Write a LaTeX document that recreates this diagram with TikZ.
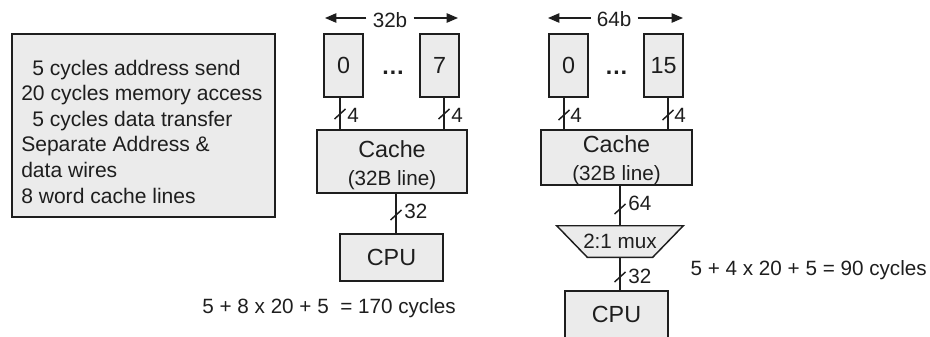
\documentclass[tikz,border=0pt]{standalone}
\usepackage{fontspec}
\setmainfont{Liberation Sans}
\usetikzlibrary{arrows.meta,backgrounds}
\definecolor{boxfill}{RGB}{235,235,235}
\definecolor{ink}{RGB}{30,30,30}
\newcommand\fbig{\fontsize{17.5pt}{21pt}\selectfont}
\newcommand\fsmall{\fontsize{15.5pt}{19pt}\selectfont}
\newcommand\fparam{\fontsize{15.8pt}{19.2pt}\selectfont}

\begin{document}
\begin{tikzpicture}[x=0.75pt,y=-0.75pt,
  box/.style={draw=ink, fill=boxfill, line width=1.1pt, inner sep=0pt, font=\fbig, text=ink},
  wire/.style={draw=ink, line width=1.1pt},
  txt/.style={inner sep=0pt, text=ink},
  dotsym/.style={inner sep=0pt, text=ink, font=\fbig\bfseries, anchor=base},
  width arrow/.style={draw=ink, line width=1.1pt, -{Triangle[length=8.5pt,width=7pt]}},
]
\useasboundingbox (0,0) rectangle (930,336);
\clip (0,0) rectangle (930,336);

% ---- memory system parameters ----
\node[box, minimum width=197.25pt, minimum height=137.25pt] (params) at (143.5,125.5) {};
\node[txt, font=\fparam, anchor=base west] (p1) at (32,75)    {5 cycles address send};
\node[txt, font=\fparam, anchor=base west] (p2) at (21,100.6) {20 cycles memory access};
\node[txt, font=\fparam, anchor=base west] (p3) at (32,126.2) {5 cycles data transfer};
\node[txt, font=\fparam, anchor=base west] (p4) at (21,151.8) {Separate Address \&};
\node[txt, font=\fparam, anchor=base west] (p5) at (21,177.4) {data wires};
\node[txt, font=\fparam, anchor=base west] (p6) at (21,203)   {8 word cache lines};

% ---- 32-bit wide memory ----
\node[txt, font=\fsmall, anchor=base, inner xsep=4.5pt] (Lw) at (390,27) {32b};
\coordinate (LwL) at (325,18);
\coordinate (LwR) at (458,18);
\draw[width arrow] (Lw.west |- LwL) -- (LwL);
\draw[width arrow] (Lw.east |- LwR) -- (LwR);

\node[box, minimum width=29.25pt, minimum height=47.25pt] (L0) at (343.5,65.5) {0};
\node[box, minimum width=29.25pt, minimum height=47.25pt] (L7) at (439.5,65.5) {7};
\node[dotsym] (Ldots) at (393,74) {…};

\node[box, minimum width=112.5pt, minimum height=47.25pt] (LC) at (392,161.5) {};
\node[txt, font=\fbig, anchor=base] (LCa) at (392,157) {Cache};
\node[txt, font=\fsmall, anchor=base] (LCb) at (392,185) {(32B line)};

\node[box, minimum width=77.25pt, minimum height=35.25pt] (LCPU) at (391.5,257.5) {CPU};

\draw[wire] (L0.south -| 340,0) -- (LC.north -| 340,0);
\draw[wire] (L7.south -| 444,0) -- (LC.north -| 444,0);
\draw[wire] (LC.south -| 396,0) -- (LCPU.north -| 396,0);

\draw[wire] (340,114) ++(-5.5,5) -- ++(11,-10);
\draw[wire] (444,114) ++(-5.5,5) -- ++(11,-10);
\draw[wire] (396,215) ++(-5.5,5) -- ++(11,-10);
\node[txt, font=\fsmall, anchor=base west] (L4a) at (347,122) {4};
\node[txt, font=\fsmall, anchor=base west] (L4b) at (451,122) {4};
\node[txt, font=\fsmall, anchor=base west] (L32) at (404,218) {32};

\node[txt, font=\fsmall, anchor=base east] (Lsum) at (456,313) {5 + 8 x 20 + 5 \ = 170 cycles};

% ---- 64-bit wide memory with 2:1 mux ----
\node[txt, font=\fsmall, anchor=base, inner xsep=4.5pt] (Rw) at (614,26) {64b};
\coordinate (RwL) at (548,18);
\coordinate (RwR) at (683,18);
\draw[width arrow] (Rw.west |- RwL) -- (RwL);
\draw[width arrow] (Rw.east |- RwR) -- (RwR);

\node[box, minimum width=29.25pt, minimum height=47.25pt] (R0) at (568.5,65.5) {0};
\node[box, minimum width=29.25pt, minimum height=47.25pt] (R15) at (663.5,65.5) {15};
\node[dotsym] (Rdots) at (616.5,74) {…};

\node[box, minimum width=113.25pt, minimum height=41.25pt] (RC) at (616.5,157.5) {};
\node[txt, font=\fbig, anchor=base] (RCa) at (616.5,152) {Cache};
\node[txt, font=\fsmall, anchor=base] (RCb) at (616.5,180) {(32B line)};

\node[txt, font=\fsmall, minimum width=94.5pt, minimum height=23.25pt] (mux) at (620,241.5) {2:1 mux};
\begin{pgfonlayer}{background}
  \draw[box] (mux.north west) -- (mux.north east)
    -- ([xshift=-22.9pt]mux.south east) -- ([xshift=22.9pt]mux.south west) -- cycle;
\end{pgfonlayer}

\node[box, minimum width=77.25pt, minimum height=35.25pt] (RCPU) at (616.5,314.5) {CPU};

\draw[wire] (R0.south -| 564,0) -- (RC.north -| 564,0);
\draw[wire] (R15.south -| 668,0) -- (RC.north -| 668,0);
\draw[wire] (RC.south -| mux.north) -- (mux.north);
\draw[wire] (mux.south) -- (RCPU.north -| mux.south);

\draw[wire] (564,115) ++(-5.5,5) -- ++(11,-10);
\draw[wire] (668,115) ++(-5.5,5) -- ++(11,-10);
\draw[wire] (620,209) ++(-5.5,5) -- ++(11,-10);
\draw[wire] (620,277) ++(-5.5,5) -- ++(11,-10);
\node[txt, font=\fsmall, anchor=base west] (R4a) at (570,122) {4};
\node[txt, font=\fsmall, anchor=base west] (R4b) at (674,122) {4};
\node[txt, font=\fsmall, anchor=base west] (R64) at (628,210) {64};
\node[txt, font=\fsmall, anchor=base west] (R32) at (628,283) {32};

\node[txt, font=\fsmall, anchor=base east] (Rsum) at (927,275) {5 + 4 x 20 + 5 = 90 cycles};
\end{tikzpicture}
\end{document}
